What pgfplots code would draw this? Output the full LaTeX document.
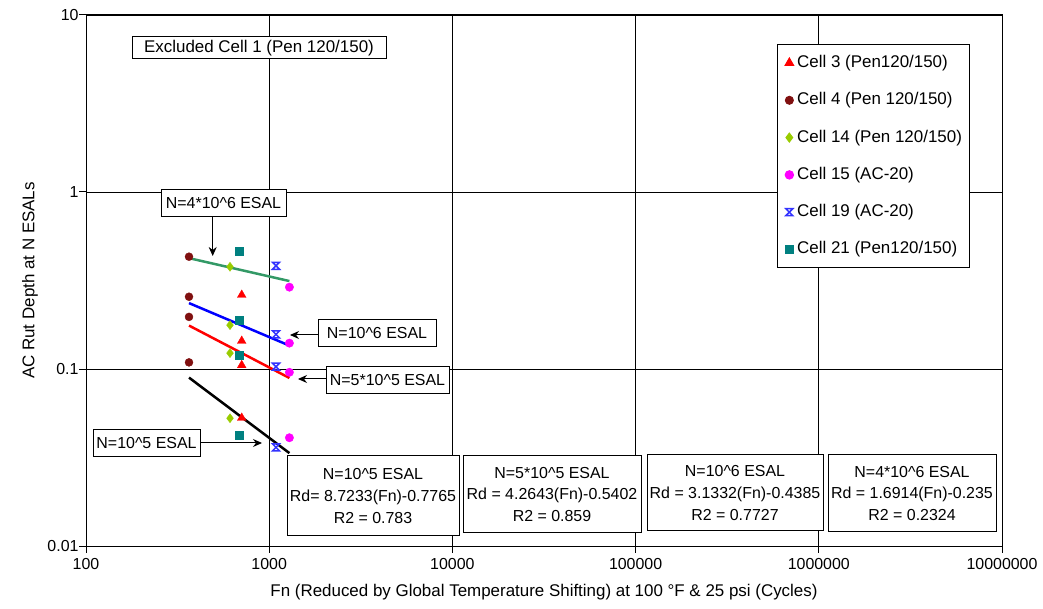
\documentclass[border=0pt]{standalone}
\usepackage{fontspec}
\setmainfont{Liberation Sans}
\usepackage{pgfplots}
\pgfplotsset{compat=1.18}
\usetikzlibrary{arrows.meta}
\definecolor{cThree}{RGB}{255,0,0}
\definecolor{cFour}{RGB}{128,16,16}
\definecolor{cFourteen}{RGB}{153,204,0}
\definecolor{cFifteen}{RGB}{255,0,255}
\definecolor{cNineteen}{RGB}{51,51,255}
\definecolor{cTwentyOne}{RGB}{0,128,128}
\definecolor{tGreen}{RGB}{51,153,102}
\pgfdeclareplotmark{hourglass}{%
  \pgfpathmoveto{\pgfqpoint{-\pgfplotmarksize}{\pgfplotmarksize}}%
  \pgfpathlineto{\pgfqpoint{\pgfplotmarksize}{\pgfplotmarksize}}%
  \pgfpathlineto{\pgfqpoint{-\pgfplotmarksize}{-\pgfplotmarksize}}%
  \pgfpathlineto{\pgfqpoint{\pgfplotmarksize}{-\pgfplotmarksize}}%
  \pgfpathclose
  \pgfusepathqstroke}
\pgfplotsset{mk/.style={only marks,
  legend image code/.code={\draw[mark repeat=2,mark phase=2,##1] plot coordinates {(0bp,0bp)(4.5bp,0bp)(9bp,0bp)};}}}
\newcommand{\at}[2]{([shift={(#1bp,#2bp)}]current axis.south west)}
\begin{document}
\begin{tikzpicture}
\begin{axis}[
  scale only axis, width=916bp, height=531bp,
  xmode=log, ymode=log,
  xmin=100, xmax=10000000, ymin=0.01, ymax=10,
  xtick={100,1000,10000,100000,1000000,10000000},
  xticklabels={100,1000,10000,100000,1000000,10000000},
  ytick={0.01,0.1,1,10},
  yticklabels={0.01,0.1,1,10},
  xminorticks=false, yminorticks=false,
  xtick pos=bottom, ytick pos=left,
  grid=major,
  major grid style={black, line width=0.9bp},
  axis line style={black, line width=1bp},
  tick style={black, line width=1bp},
  tick align=outside, major tick length=7bp,
  /pgf/number format/assume math mode=true,
  tick label style={font=\fontsize{16}{16}\selectfont},
  yticklabel style={xshift=3bp},
  xticklabel style={yshift=-2bp},
  xlabel={Fn (Reduced by Global Temperature Shifting) at 100 °F \& 25 psi (Cycles)},
  ylabel={AC Rut Depth at N ESALs},
  label style={font=\fontsize{17}{17}\selectfont},
  xlabel style={at={(axis description cs:0.5,-0.0866)}, anchor=center},
  ylabel style={at={(axis description cs:-0.0611,0.5)}, anchor=center, rotate=0},
  legend style={at={(0.7544,0.9454)}, anchor=north west, draw=black, line width=1bp,
    fill=white, font=\fontsize{17}{17}\selectfont,
    inner xsep=7.5bp, inner ysep=10bp, row sep=20.3bp, column sep=0bp,
    nodes={inner sep=0pt, text height=13bp, text depth=4bp}},
  legend cell align=left,
]
% trend lines (power fits)
\addplot[tGreen, line width=2.5bp, forget plot] coordinates {(365,0.423) (1289,0.314)};
\addplot[blue, line width=2.5bp, forget plot] coordinates {(365,0.2357) (1289,0.1356)};
\addplot[red, line width=2.5bp, forget plot] coordinates {(365,0.176) (1289,0.0890)};
\addplot[black, line width=2.5bp, forget plot] coordinates {(365,0.0894) (1289,0.0335)};
% data
\addplot[mk, mark=triangle*, mark size=5bp, color=cThree] coordinates {(708,0.262) (708,0.144) (708,0.105) (708,0.0529)};
\addlegendentry{\hspace{3.5bp}Cell 3 (Pen120/150)}
\addplot[mk, mark=*, mark size=4bp, color=cFour] coordinates {(365,0.431) (365,0.256) (365,0.197) (365,0.109)};
\addlegendentry{\hspace{3.5bp}Cell 4 (Pen 120/150)}
\addplot[mk, mark=diamond*, mark size=4.5bp, color=cFourteen] coordinates {(611,0.378) (611,0.177) (611,0.123) (611,0.0527)};
\addlegendentry{\hspace{3.5bp}Cell 14 (Pen 120/150)}
\addplot[mk, mark=*, mark size=4.2bp, color=cFifteen] coordinates {(1289,0.290) (1289,0.140) (1289,0.0958) (1289,0.0409)};
\addlegendentry{\hspace{3.5bp}Cell 15 (AC-20)}
\addplot[mk, mark=hourglass, mark size=3.5bp, color=cNineteen, mark options={line width=1.5bp}] coordinates {(1089,0.383) (1089,0.157) (1089,0.103) (1089,0.0361)};
\addlegendentry{\hspace{3.5bp}Cell 19 (AC-20)}
\addplot[mk, mark=square*, mark size=4bp, color=cTwentyOne] coordinates {(684,0.460) (684,0.189) (684,0.119) (684,0.0424)};
\addlegendentry{\hspace{3.5bp}Cell 21 (Pen120/150)}
\end{axis}
% annotations
\tikzset{lbl/.style={draw=black, line width=1bp, fill=white, inner sep=0pt, align=center}}
\node[lbl, minimum width=254bp, minimum height=22bp, font=\fontsize{17}{17}\selectfont] at \at{173}{498} {Excluded Cell 1 (Pen 120/150)};
\node[lbl, minimum width=125bp, minimum height=27bp, font=\fontsize{16}{16}\selectfont] at \at{137.5}{342.5} {N=4*10\textasciicircum 6 ESAL};
\node[lbl, minimum width=118bp, minimum height=27bp, font=\fontsize{16}{16}\selectfont] at \at{291}{212.5} {N=10\textasciicircum 6 ESAL};
\node[lbl, minimum width=123bp, minimum height=27bp, font=\fontsize{16}{16}\selectfont] at \at{301.5}{165.5} {N=5*10\textasciicircum 5 ESAL};
\node[lbl, minimum width=107bp, minimum height=27bp, font=\fontsize{16}{16}\selectfont] at \at{60.5}{102.5} {N=10\textasciicircum 5 ESAL};
\draw[black, line width=1bp, -{Stealth[length=9bp,width=8bp]}] \at{126.7}{329} -- \at{126.7}{290};
\draw[black, line width=1bp, -{Stealth[length=9bp,width=8bp]}] \at{232}{211} -- \at{204}{211};
\draw[black, line width=1bp, -{Stealth[length=9bp,width=8bp]}] \at{240}{167} -- \at{212}{167};
\draw[black, line width=1bp, -{Stealth[length=9bp,width=8bp]}] \at{114}{103} -- \at{176}{103};
\node[lbl, minimum width=172bp, minimum height=80bp, font=\fontsize{16}{22}\selectfont] at \at{287}{50} {N=10\textasciicircum 5 ESAL\\Rd= 8.7233(Fn)-0.7765\\R2 = 0.783};
\node[lbl, minimum width=178bp, minimum height=77bp, font=\fontsize{16}{22}\selectfont] at \at{466}{51.5} {N=5*10\textasciicircum 5 ESAL\\Rd = 4.2643(Fn)-0.5402\\R2 = 0.859};
\node[lbl, minimum width=176bp, minimum height=76bp, font=\fontsize{16}{22}\selectfont] at \at{649}{53} {N=10\textasciicircum 6 ESAL\\Rd = 3.1332(Fn)-0.4385\\R2 = 0.7727};
\node[lbl, minimum width=168bp, minimum height=77bp, font=\fontsize{16}{22}\selectfont] at \at{826}{52.5} {N=4*10\textasciicircum 6 ESAL\\Rd = 1.6914(Fn)-0.235\\R2 = 0.2324};
\pgfresetboundingbox
\path[use as bounding box] ([shift={(-86bp,-63bp)}]current axis.south west) rectangle ([shift={(41bp,15bp)}]current axis.north east);
\end{tikzpicture}
\end{document}
